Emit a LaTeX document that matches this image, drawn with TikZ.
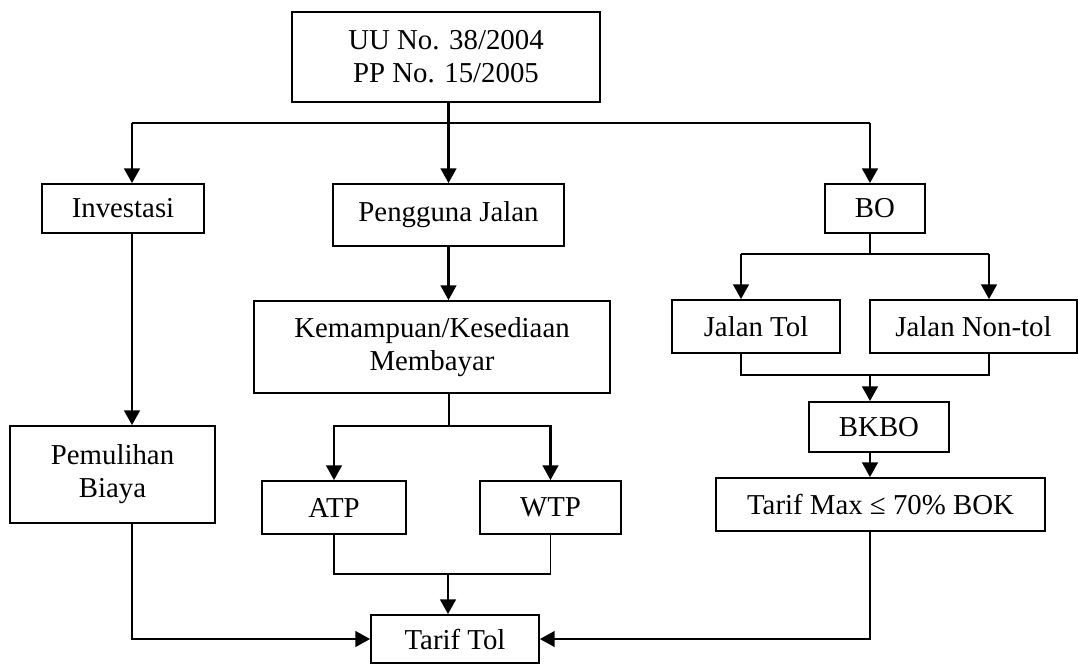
\documentclass[tikz,border=0pt]{standalone}
\usepackage{fontspec}
\setmainfont{Liberation Serif}
\usetikzlibrary{arrows.meta}

\begin{document}
\begin{tikzpicture}[x=0.025cm, y=-0.025cm,
    box/.style={draw, line width=1.2pt, inner sep=0pt, align=center,
        font=\fontsize{20.5}{23.6}\selectfont},
    link/.style={line width=1.1pt},
    bar/.style={line width=2pt},
    flow/.style={line width=2pt, -{Triangle[length=10.5pt, width=11pt]}}]
    \useasboundingbox (0, 0) rectangle (1078, 666);
    \node[box, minimum width=7.7cm, minimum height=2.25cm] (law) at (446, 57)
        {UU No. 38/2004\\PP No. 15/2005};
    \node[box, minimum width=4.05cm, minimum height=1.225cm] (inv) at (123, 208.5) {Investasi};
    \node[box, minimum width=5.775cm, minimum height=1.55cm] (peng) at (448.5, 215) {Pengguna Jalan};
    \node[box, minimum width=2.5cm, minimum height=1.225cm] (bo) at (875, 208.5) {BO};
    \node[box, minimum width=8.9cm, minimum height=2.3cm] (kem) at (432, 347)
        {Kemampuan/Kesediaan\\Membayar};
    \node[box, minimum width=4.2cm, minimum height=1.325cm] (jtol) at (756, 326.5) {Jalan Tol};
    \node[box, minimum width=5.175cm, minimum height=1.325cm] (jnon) at (973.5, 326.5) {Jalan Non-tol};
    \node[box, minimum width=5.125cm, minimum height=2.425cm] (pem) at (112.5, 474.5)
        {Pemulihan\\Biaya};
    \node[box, minimum width=3.6cm, minimum height=1.325cm] (atp) at (334, 507.5) {ATP};
    \node[box, minimum width=3.525cm, minimum height=1.325cm] (wtp) at (550.5, 507.5) {WTP};
    \node[box, minimum width=3.5cm, minimum height=1.25cm] (bkbo) at (879, 427) {BKBO};
    \node[box, minimum width=8.225cm, minimum height=1.325cm] (tmax) at (880.5, 504.5)
        {Tarif Max ≤ 70\% BOK};
    \node[box, minimum width=4.2cm, minimum height=1.2cm] (tol) at (455, 639) {Tarif Tol};

    \coordinate (invcol) at (132, 123);
    \coordinate (bocol) at (870, 123);
    \draw[bar] (invcol) -- (bocol);
    \draw[flow] (law.south -| peng.north) -- (peng.north);
    \draw[flow] (invcol) -- (invcol |- inv.north);
    \draw[flow] (bocol) -- (bocol |- bo.north);
    \draw[flow] (invcol |- inv.south) -- (invcol |- pem.north);
    \draw[flow] (invcol |- pem.south) |- (tol.west);

    \draw[flow] (peng.south) -- (peng.south |- kem.north);
    \coordinate (kemjoin) at (449, 426);
    \draw[link] (kemjoin |- kem.south) -- (kemjoin);
    \draw[flow] (kemjoin) -| (atp.north);
    \draw[flow] (kemjoin) -| (wtp.north);
    \coordinate (payjoin) at (448, 574);
    \draw[link] (atp.south) |- (payjoin) -| (wtp.south);
    \draw[flow] (payjoin) -- (payjoin |- tol.north);

    \coordinate (bojoin) at (870, 254);
    \coordinate (tolcol) at (741, 254);
    \coordinate (noncol) at (989, 254);
    \draw[link] (bocol |- bo.south) -- (bojoin);
    \draw[bar] (tolcol) -- (noncol);
    \draw[flow] (tolcol) -- (tolcol |- jtol.north);
    \draw[flow] (noncol) -- (noncol |- jnon.north);
    \coordinate (jalanjoin) at (870, 375);
    \draw[link] (tolcol |- jtol.south) |- (jalanjoin) -| (noncol |- jnon.south);
    \draw[flow] (jalanjoin) -- (jalanjoin |- bkbo.north);
    \draw[flow] (jalanjoin |- bkbo.south) -- (jalanjoin |- tmax.north);
    \draw[flow] (jalanjoin |- tmax.south) |- (tol.east);
\end{tikzpicture}
\end{document}
